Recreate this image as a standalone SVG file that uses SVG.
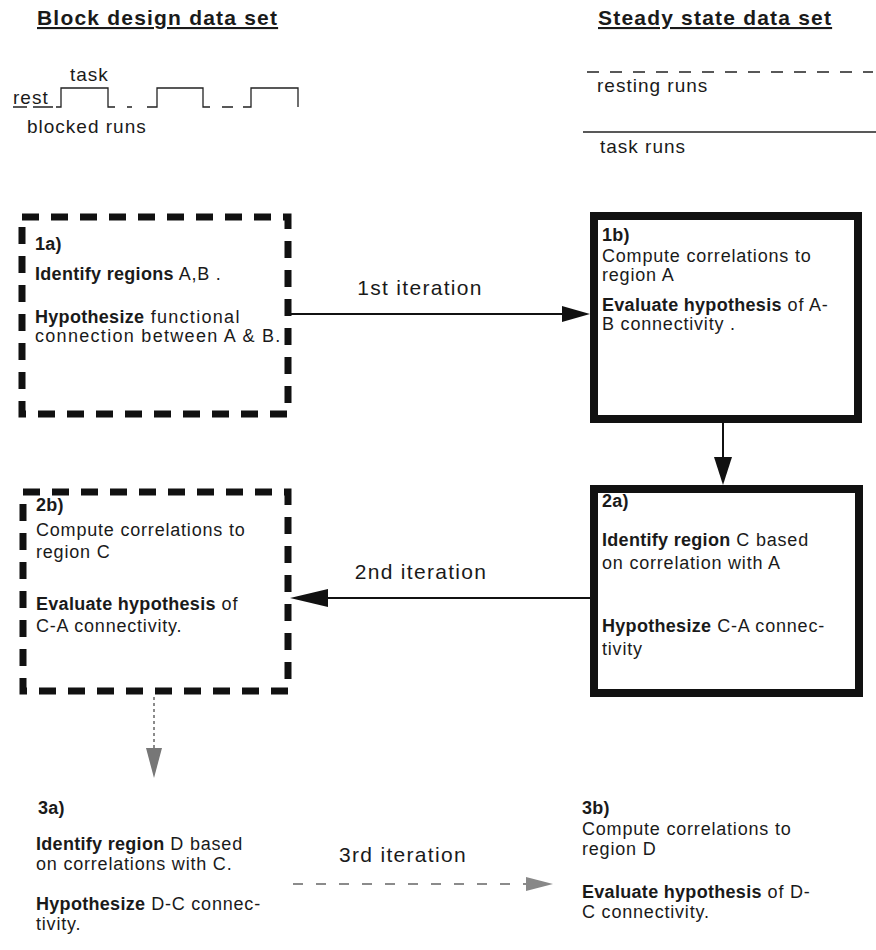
<svg xmlns="http://www.w3.org/2000/svg" width="876" height="950" viewBox="0 0 876 950">
<style>
  text { font-family: "Liberation Sans", Arial, sans-serif; fill: #1a1a1a; }
  .t { font-size: 18px; letter-spacing: 0.8px; }
  .w { letter-spacing: 1.3px; }
  .b { font-weight: bold; letter-spacing: 0.3px; }
  .title { font-size: 21px; font-weight: bold; letter-spacing: 1.2px; text-decoration: underline; }
  .lab { font-size: 19px; letter-spacing: 1px; }
  .it { font-size: 21px; letter-spacing: 1.3px; text-anchor: middle; }
  .dbox { fill: none; stroke: #111; stroke-width: 7; stroke-dasharray: 17 12; }
  .sbox { fill: none; stroke: #111; stroke-width: 8; }
  .sig { fill: none; stroke: #222; stroke-width: 1.3; }
  .conn { fill: none; stroke: #111; stroke-width: 2; }
  .gconn { fill: none; stroke: #666; stroke-width: 1.5; }
</style>

<g id="header-block">
  <text class="title" x="37" y="25">Block design data set</text>
  <text class="lab" x="70" y="81">task</text>
  <text class="lab" x="13" y="104">rest</text>
  <text class="lab" x="27" y="133">blocked runs</text>
  <path class="sig" d="M13,107 H27 M33,107 H53 M56,107 H61 V88 H108 V107 H115 M127,107 H132 M147,107 H157 V88 H203 V107 H210 M222,107 H233 M243,107 H251 V88 H298 V107"/>
</g>

<g id="header-steady">
  <text class="title" x="598" y="25">Steady state data set</text>
  <path class="sig" d="M587,72 H873" stroke-dasharray="12 11"/>
  <text class="lab" x="597" y="92">resting runs</text>
  <path class="sig" d="M583,132 H876"/>
  <text class="lab" x="600" y="153">task runs</text>
</g>

<g id="node-1a">
  <rect class="dbox" x="22" y="217" width="266" height="197"/>
  <text class="t" x="35" y="250"><tspan class="b">1a)</tspan></text>
  <text class="t" x="35" y="280"><tspan class="b">Identify regions</tspan> A,B .</text>
  <text class="t w" x="35" y="323"><tspan class="b">Hypothesize</tspan> functional</text>
  <text class="t w" x="35" y="342">connection between A &amp; B.</text>
</g>

<g id="node-1b">
  <rect class="sbox" x="594" y="216" width="264" height="203"/>
  <text class="t" x="602" y="241"><tspan class="b">1b)</tspan></text>
  <text class="t" x="602" y="262">Compute correlations to</text>
  <text class="t" x="602" y="281">region A</text>
  <text class="t" x="602" y="311"><tspan class="b">Evaluate hypothesis</tspan> of A-</text>
  <text class="t" x="602" y="330">B connectivity .</text>
</g>

<g id="node-2a">
  <rect class="sbox" x="594" y="489" width="265" height="204"/>
  <text class="t" x="602" y="507"><tspan class="b">2a)</tspan></text>
  <text class="t" x="602" y="546"><tspan class="b">Identify region</tspan> C based</text>
  <text class="t" x="602" y="569">on correlation with A</text>
  <text class="t" x="602" y="632"><tspan class="b">Hypothesize</tspan>  C-A connec-</text>
  <text class="t" x="602" y="655">tivity</text>
</g>

<g id="node-2b">
  <rect class="dbox" x="23" y="492" width="265" height="199"/>
  <text class="t" x="36" y="511"><tspan class="b">2b)</tspan></text>
  <text class="t" x="36" y="536">Compute correlations to</text>
  <text class="t" x="36" y="558">region C</text>
  <text class="t" x="36" y="610"><tspan class="b">Evaluate hypothesis</tspan>  of</text>
  <text class="t" x="36" y="632">C-A connectivity.</text>
</g>

<g id="node-3a">
  <text class="t" x="38" y="814"><tspan class="b">3a)</tspan></text>
  <text class="t" x="36" y="850"><tspan class="b">Identify region</tspan> D based</text>
  <text class="t" x="36" y="870">on correlations with C.</text>
  <text class="t" x="36" y="910"><tspan class="b">Hypothesize</tspan> D-C connec-</text>
  <text class="t" x="36" y="930">tivity.</text>
</g>

<g id="node-3b">
  <text class="t" x="582" y="814"><tspan class="b">3b)</tspan></text>
  <text class="t" x="582" y="835">Compute correlations to</text>
  <text class="t" x="582" y="855">region D</text>
  <text class="t" x="582" y="898"><tspan class="b">Evaluate hypothesis</tspan> of D-</text>
  <text class="t" x="582" y="918">C connectivity.</text>
</g>

<g id="connectors">
  <line class="conn" x1="290" y1="314" x2="565" y2="314"/>
  <polygon points="562,306 590,314 562,322" fill="#111"/>
  <text class="it" x="420" y="295">1st iteration</text>

  <line class="conn" x1="723" y1="423" x2="723" y2="460"/>
  <polygon points="714,457 732,457 723,485" fill="#111"/>

  <line class="conn" x1="590" y1="598" x2="325" y2="598"/>
  <polygon points="328,589 290,598 328,607" fill="#111"/>
  <text class="it" x="421" y="579">2nd iteration</text>

  <line class="gconn" x1="154" y1="697" x2="154" y2="748" stroke-dasharray="3 3"/>
  <polygon points="146,748 162,748 154,778" fill="#777"/>

  <line class="gconn" x1="293" y1="884" x2="527" y2="884" stroke-dasharray="10 13"/>
  <polygon points="526,877 553,884 526,891" fill="#888"/>
  <text class="it" x="403" y="862">3rd iteration</text>
</g>
</svg>
